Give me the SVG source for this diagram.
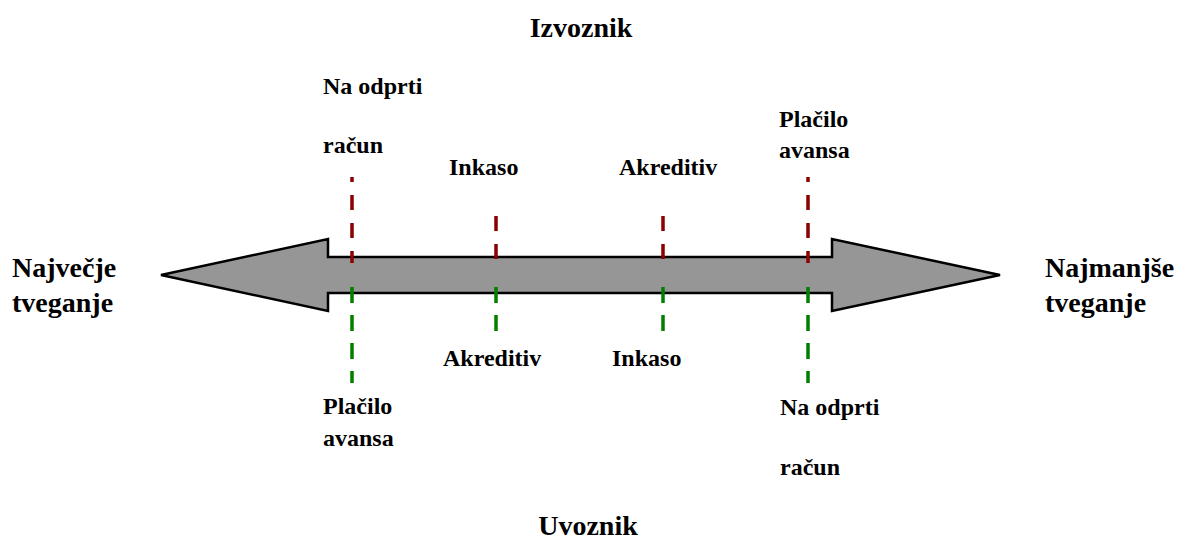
<svg xmlns="http://www.w3.org/2000/svg" width="1187" height="540" viewBox="0 0 1187 540">
<style>
text{font-family:"Liberation Serif","Times New Roman",serif;font-weight:bold;fill:#000}
.big{font-size:28px}
.lbl{font-size:24px}
.red{stroke:#8B0000;stroke-width:3.5;stroke-dasharray:15 13;fill:none}
.grn{stroke:#008000;stroke-width:3.5;stroke-dasharray:16 12;fill:none}
</style>
<rect width="1187" height="540" fill="#fff"/>
<g id="arrow">
<path d="M161,275 L328,239 L328,257 L832,257 L832,239 L1000,275 L832,311 L832,293 L328,293 L328,311 Z" fill="#969696" stroke="#000" stroke-width="2.5" stroke-linejoin="miter"/>
</g>
<g id="connectors">
<line class="red" x1="352" y1="177" x2="352" y2="263" stroke-dashoffset="10"/>
<line class="red" x1="496" y1="216" x2="496" y2="259"/>
<line class="red" x1="663" y1="216" x2="663" y2="259"/>
<line class="red" x1="808" y1="177" x2="808" y2="263" stroke-dashoffset="10"/>
<line class="grn" x1="352" y1="287" x2="352" y2="383"/>
<line class="grn" x1="496" y1="287" x2="496" y2="332"/>
<line class="grn" x1="663" y1="287" x2="663" y2="332"/>
<line class="grn" x1="808" y1="287" x2="808" y2="383"/>
</g>
<g id="izvoznik"><text class="big" x="581" y="37" text-anchor="middle">Izvoznik</text></g>
<g id="uvoznik"><text class="big" x="588" y="535" text-anchor="middle">Uvoznik</text></g>
<g id="najvecje"><text class="big" x="12" y="277">Največje</text><text class="big" x="12" y="312">tveganje</text></g>
<g id="najmanjse"><text class="big" x="1045" y="277">Najmanjše</text><text class="big" x="1045" y="312">tveganje</text></g>
<g id="top-odprti"><text class="lbl" x="323" y="94">Na odprti</text><text class="lbl" x="323" y="153">račun</text></g>
<g id="top-inkaso"><text class="lbl" x="449" y="175">Inkaso</text></g>
<g id="top-akreditiv"><text class="lbl" x="619" y="175">Akreditiv</text></g>
<g id="top-placilo"><text class="lbl" x="779" y="127">Plačilo</text><text class="lbl" x="779" y="158">avansa</text></g>
<g id="bot-akreditiv"><text class="lbl" x="443" y="366">Akreditiv</text></g>
<g id="bot-inkaso"><text class="lbl" x="612" y="366">Inkaso</text></g>
<g id="bot-placilo"><text class="lbl" x="323" y="414">Plačilo</text><text class="lbl" x="323" y="446">avansa</text></g>
<g id="bot-odprti"><text class="lbl" x="780" y="415">Na odprti</text><text class="lbl" x="780" y="475">račun</text></g>
</svg>
